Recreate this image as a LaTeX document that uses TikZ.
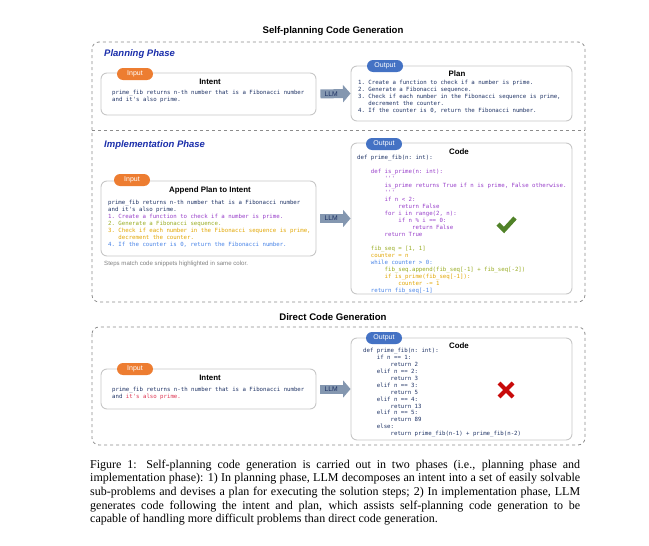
\documentclass[tikz,border=0pt]{standalone}
\usepackage{fontspec}
\setmainfont{Liberation Serif}
\setsansfont{Liberation Sans}
\setmonofont{DejaVu Sans Mono}
\usepackage{xcolor}
\usepackage{tikz}
\usetikzlibrary{arrows.meta}

\definecolor{navytext}{RGB}{30,50,100}
\definecolor{steppurple}{RGB}{150,60,200}
\definecolor{stepolive}{RGB}{150,170,30}
\definecolor{stepgold}{RGB}{225,165,0}
\definecolor{stepblue}{RGB}{70,130,230}
\definecolor{phaseblue}{RGB}{25,45,170}
\definecolor{inputorange}{RGB}{237,125,49}
\definecolor{outputblue}{RGB}{68,114,196}
\definecolor{llmgray}{RGB}{132,151,176}
\definecolor{okgreen}{RGB}{80,130,40}
\definecolor{badred}{RGB}{200,10,10}
\definecolor{hintred}{RGB}{220,50,80}

\newcommand{\ind}{\phantom{xxxx}}

\begin{document}
\begin{tikzpicture}[x=1pt,y=-1pt,
      panel/.style={draw=black!45, dashed, line width=0.8pt, rounded corners=7pt},
      card/.style={draw=black!22, line width=0.9pt, rounded corners=6pt, inner sep=0pt},
      badge/.style={rounded corners=6pt, minimum width=36pt, minimum height=12pt, inner sep=0pt, text=white, font=\sffamily\fontsize{7}{8}\selectfont},
      head/.style={font=\sffamily\bfseries\fontsize{7.9}{9}\selectfont},
      phase/.style={font=\sffamily\bfseries\itshape\fontsize{9.5}{11}\selectfont, text=phaseblue, anchor=west, inner sep=0pt},
      title/.style={font=\sffamily\bfseries\fontsize{9.6}{11}\selectfont},
      code/.style={font=\ttfamily\fontsize{5.7}{6.9}\selectfont, align=left, anchor=north west, inner sep=0pt, text=navytext},
      llm/.style={line width=9pt, draw=llmgray, -{Triangle[width=17pt,length=7.5pt]}, shorten <=4pt},
      llmtext/.style={font=\sffamily\fontsize{6.8}{8}\selectfont, text=navytext, inner sep=0pt}
    ]
      \useasboundingbox (0,0) rectangle (649,546);

      \node[title] (maintitle) at (333,31) {Self-planning Code Generation};
      \draw[panel] (92,42) rectangle (585,302);
      \draw[panel, rounded corners=0pt] (92,130) -- (585,130);

      % planning phase
      \node[phase] (planphase) at (104,54) {Planning Phase};
      \node[card, minimum width=215pt, minimum height=42pt] (intentA) at (208.5,94) {};
      \node[badge, fill=inputorange] (inA) at (135,74) {Input};
      \node[head] (intentAhead) at (210,82) {Intent};
      \node[code] (intentAtext) at (112,90.3) {prime\_fib returns n-th number that is a Fibonacci number\\and it's also prime.};

      \node[card, minimum width=221pt, minimum height=55pt] (plan) at (461.5,93.5) {};
      \node[badge, fill=outputblue] (outA) at (385,66) {Output};
      \node[head] (planhead) at (457,74) {Plan};
      \node[code, font=\ttfamily\fontsize{5.7}{7}\selectfont] (plantext) at (358,80.3) {1. Create a function to check if a number is prime.\\
2. Generate a Fibonacci sequence.\\
3. Check if each number in the Fibonacci sequence is prime,\\
\phantom{3. }decrement the counter.\\
4. If the counter is 0, return the Fibonacci number.};

      \draw[llm] (intentA.east) -- node[llmtext, pos=0.43] {LLM} (plan.west);

      % implementation phase
      \node[phase] (implphase) at (104,145) {Implementation Phase};
      \node[card, minimum width=215pt, minimum height=75pt] (intentB) at (208.5,218.5) {};
      \node[badge, fill=inputorange] (inB) at (132,180) {Input};
      \node[head] (intentBhead) at (210,190) {Append Plan to Intent};
      \node[code] (intentBtext) at (108,200.3) {prime\_fib returns n-th number that is a Fibonacci number\\
and it's also prime.\\
\textcolor{steppurple}{1. Create a function to check if a number is prime.}\\
\textcolor{stepolive}{2. Generate a Fibonacci sequence.}\\
\textcolor{stepgold}{3. Check if each number in the Fibonacci sequence is prime,}\\
\textcolor{stepgold}{\phantom{3. }decrement the counter.}\\
\textcolor{stepblue}{4. If the counter is 0, return the Fibonacci number.}};
      \node[anchor=west, inner sep=0pt, font=\sffamily\fontsize{6.1}{7}\selectfont, text=black!50] (note) at (104,264) {Steps match code snippets highlighted in same color.};

      \node[card, minimum width=221pt, minimum height=151pt] (codeB) at (461.5,218.5) {};
      \node[badge, fill=outputblue] (outB) at (384,144) {Output};
      \node[head] (codeBhead) at (459,152) {Code};
      \node[code, font=\ttfamily\fontsize{5.7}{7}\selectfont] (codeBtext) at (357,154.8) {def prime\_fib(n: int):\\[7pt]
\textcolor{steppurple}{\ind def is\_prime(n: int):}\\
\textcolor{steppurple}{\ind\ind '''}\\
\textcolor{steppurple}{\ind\ind is\_prime returns True if n is prime, False otherwise.}\\
\textcolor{steppurple}{\ind\ind '''}\\
\textcolor{steppurple}{\ind\ind if n < 2:}\\
\textcolor{steppurple}{\ind\ind\ind return False}\\
\textcolor{steppurple}{\ind\ind for i in range(2, n):}\\
\textcolor{steppurple}{\ind\ind\ind if n \% i == 0:}\\
\textcolor{steppurple}{\ind\ind\ind\ind return False}\\
\textcolor{steppurple}{\ind\ind return True}\\[7pt]
\textcolor{stepolive}{\ind fib\_seq = [1, 1]}\\
\textcolor{stepgold}{\ind counter = n}\\
\textcolor{stepblue}{\ind while counter > 0:}\\
\textcolor{stepolive}{\ind\ind fib\_seq.append(fib\_seq[-1] + fib\_seq[-2])}\\
\textcolor{stepgold}{\ind\ind if is\_prime(fib\_seq[-1]):}\\
\textcolor{stepgold}{\ind\ind\ind counter -= 1}\\
\textcolor{stepblue}{\ind return fib\_seq[-1]}};
      \draw[okgreen, line width=4.5pt] (498,224) -- (504,230) -- (515,218);

      \draw[llm] (intentB.east) -- node[llmtext, pos=0.43] {LLM} (codeB.west);

      % direct generation
      \node[title] (directtitle) at (333,317) {Direct Code Generation};
      \draw[panel] (92,327) rectangle (585,445);

      \node[card, minimum width=215pt, minimum height=40pt] (intentC) at (208.5,389) {};
      \node[badge, fill=inputorange] (inC) at (135,369) {Input};
      \node[head] (intentChead) at (210,378) {Intent};
      \node[code] (intentCtext) at (112,387.3) {prime\_fib returns n-th number that is a Fibonacci number\\and \textcolor{hintred}{it's also prime.}};

      \node[card, minimum width=221pt, minimum height=102pt] (codeC) at (461.5,389) {};
      \node[badge, fill=outputblue] (outC) at (384,338) {Output};
      \node[head] (codeChead) at (459,346) {Code};
      \node[code] (codeCtext) at (363,348.3) {def prime\_fib(n: int):\\
\ind if n == 1:\\
\ind\ind return 2\\
\ind elif n == 2:\\
\ind\ind return 3\\
\ind elif n == 3:\\
\ind\ind return 5\\
\ind elif n == 4:\\
\ind\ind return 13\\
\ind elif n == 5:\\
\ind\ind return 89\\
\ind else:\\
\ind\ind return prime\_fib(n-1) + prime\_fib(n-2)};
      \draw[badred, line width=4pt] (499,383) -- (513,397) (513,383) -- (499,397);

      \draw[llm] (intentC.east) -- node[llmtext, pos=0.43] {LLM} (codeC.west);

      \node[anchor=north west, inner sep=0pt, text width=490pt, align=justify, font=\fontsize{12}{13.7}\selectfont] (caption) at (90,459.5) {Figure 1: Self-planning code generation is carried out in two phases (i.e., planning phase and\linebreak
implementation phase): 1) In planning phase, LLM decomposes an intent into a set of easily solvable\linebreak
sub-problems and devises a plan for executing the solution steps; 2) In implementation phase, LLM\linebreak
generates code following the intent and plan, which assists self-planning code generation to be\linebreak
capable of handling more difficult problems than direct code generation.};
    \end{tikzpicture}
\end{document}
